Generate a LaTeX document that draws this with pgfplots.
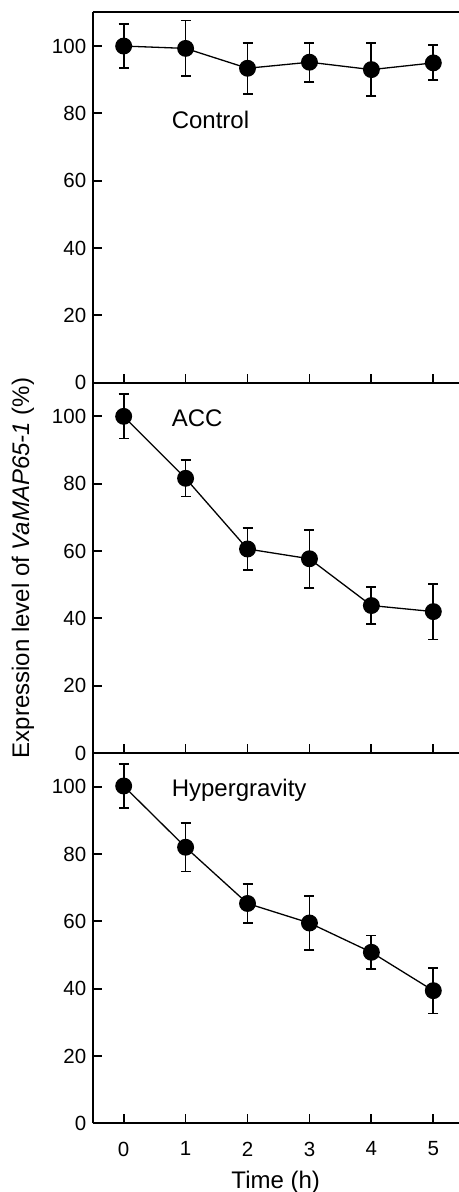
\documentclass[border=0pt]{standalone}
\usepackage{fontspec}
\setmainfont{Liberation Sans}
\usepackage{pgfplots}
\pgfplotsset{compat=1.18}
\pgfplotsset{
 panel/.style={
  scale only axis, width=366bp, height=370.3bp,
  xmin=-0.5, xmax=5.41, ymin=0, ymax=110,
  axis lines=left, axis line style={-, line width=1.8bp},
  tick align=inside, major tick length=9bp,
  every tick/.style={line width=1.8bp, black},
  xtick={0,...,5}, ytick={0,20,...,100},
  /pgf/number format/assume math mode=true,
  ticklabel style={font=\fontsize{20.5bp}{24bp}\selectfont},
  yticklabel style={xshift=-3bp},
  clip=false,
  anchor=south west,
 },
 ser/.style={black, line width=1.3bp, mark=*, mark size=7.8bp,
   mark options={fill=black, solid},
   /pgfplots/error bars/y dir=both,
   /pgfplots/error bars/y explicit,
   /pgfplots/error bars/error mark=-,
   /pgfplots/error bars/error bar style={line width=1.8bp, black, solid},
   /pgfplots/error bars/error mark options={rotate=90, mark size=5bp, line width=1.8bp, black}},
}
\newcommand{\lblfont}{\fontsize{24bp}{28bp}\selectfont}
\begin{document}
\begin{tikzpicture}
\useasboundingbox (0,0) rectangle (459bp,1192bp);
% Top panel: Control
\begin{axis}[panel, at={(92.7bp,809.3bp)}, xticklabels={}]
\addplot[ser] coordinates {
 (0,100) +- (0,6.6)
 (1,99.3) +- (0,8.3)
 (2,93.4) +- (0,7.6)
 (3,95.2) +- (0,5.8)
 (4,93.0) +- (0,7.8)
 (5,95.0) +- (0,5.2)
};
\draw[line width=1.8bp] (rel axis cs:0,1) -- (rel axis cs:1,1);
\node[anchor=base west, font=\lblfont] at (axis cs:0.72,75.4) {Control};
\end{axis}
% Middle panel: ACC
\begin{axis}[panel, at={(92.7bp,439bp)}, xticklabels={}]
\addplot[ser] coordinates {
 (0,100) +- (0,6.6)
 (1,81.6) +- (0,5.4)
 (2,60.6) +- (0,6.3)
 (3,57.7) +- (0,8.6)
 (4,43.8) +- (0,5.4)
 (5,42.0) +- (0,8.3)
};
\node[anchor=base west, font=\lblfont] at (axis cs:0.72,96.9) {ACC};
\end{axis}
% Bottom panel: Hypergravity
\begin{axis}[panel, at={(92.7bp,68.7bp)},
  xlabel={Time (h)}, xlabel style={font=\lblfont, yshift=-8bp},
  xticklabel style={yshift=-15bp}]
\addplot[ser] coordinates {
 (0,100.2) +- (0,6.6)
 (1,82.0) +- (0,7.2)
 (2,65.3) +- (0,5.9)
 (3,59.5) +- (0,8.0)
 (4,50.8) +- (0,5.0)
 (5,39.4) +- (0,6.8)
};
\node[anchor=base west, font=\lblfont] at (axis cs:0.72,97.0) {Hypergravity};
\end{axis}
\node[rotate=90, font=\lblfont] at (23bp,624bp) {Expression level of \textit{VaMAP65-1} (\%)};
\end{tikzpicture}
\end{document}
